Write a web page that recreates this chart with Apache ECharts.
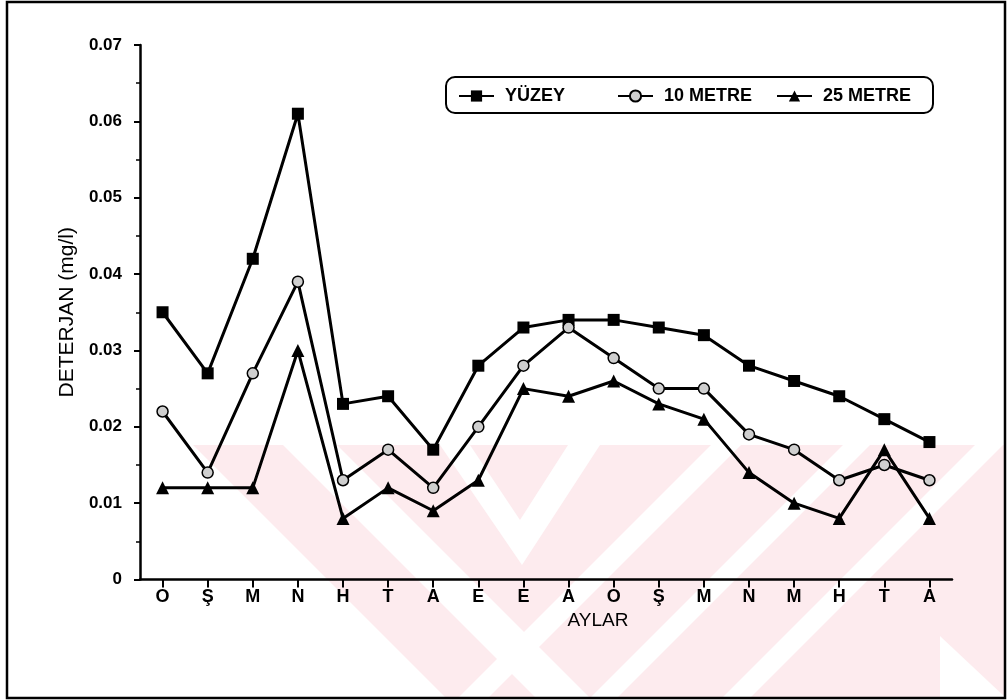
<!DOCTYPE html>
<html>
<head>
<meta charset="utf-8">
<script src="https://cdn.jsdelivr.net/npm/echarts@6/dist/echarts.min.js"></script>
<style>
  html, body { margin: 0; padding: 0; background: #fff; }
  #chart { width: 1008px; height: 700px; }
</style>
</head>
<body>
<div id="chart"></div>
<script>
// Months (Turkish initials), two sampling years
const months = ['O', 'Ş', 'M', 'N', 'H', 'T', 'A', 'E', 'E', 'A', 'O', 'Ş', 'M', 'N', 'M', 'H', 'T', 'A'];

// Detergent concentration (mg/l) by depth
const yuzey   = [0.035, 0.027, 0.042, 0.061, 0.023, 0.024, 0.017, 0.028, 0.033, 0.034, 0.034, 0.033, 0.032, 0.028, 0.026, 0.024, 0.021, 0.018];
const metre10 = [0.022, 0.014, 0.027, 0.039, 0.013, 0.017, 0.012, 0.020, 0.028, 0.033, 0.029, 0.025, 0.025, 0.019, 0.017, 0.013, 0.015, 0.013];
const metre25 = [0.012, 0.012, 0.012, 0.030, 0.008, 0.012, 0.009, 0.013, 0.025, 0.024, 0.026, 0.023, 0.021, 0.014, 0.010, 0.008, 0.017, 0.008];

const seriesNames = ['YÜZEY', '10 METRE', '25 METRE'];

const FONT = 'Liberation Sans, Arial, sans-serif';
const PINK = '#fdebee';

const chart = echarts.init(document.getElementById('chart'), null, { renderer: 'canvas' });

function legendAt(name, left) {
  return {
    data: [name],
    left: left,
    top: 87,
    orient: 'horizontal',
    padding: 0,
    itemWidth: 35,
    itemHeight: 14,
    selectedMode: false,
    textStyle: {
      fontFamily: FONT, fontSize: 18, fontWeight: 'bold', color: '#000',
      padding: [0, 0, 0, 6]
    }
  };
}

// faint diagonal background pattern in the lower part of the page
function poly(points, fill) {
  return { type: 'polygon', z: -10, silent: true, shape: { points: points }, style: { fill: fill } };
}
const pattern = [
  poly([[193, 445], [1005, 445], [1005, 697], [445, 697]], PINK),
  // white stripes
  poly([[283, 445], [337, 445], [589, 697], [535, 697]], '#fff'),
  poly([[440, 445], [470, 445], [520, 520], [568, 445], [600, 445], [522, 565]], '#fff'),
  poly([[711, 445], [741, 445], [489, 697], [459, 697]], '#fff'),
  poly([[843, 445], [870, 445], [618, 697], [591, 697]], '#fff'),
  poly([[975, 445], [1003, 445], [751, 697], [723, 697]], '#fff'),
  poly([[940, 636], [1005, 697], [940, 697]], '#fff')
];

const lineStyle = { color: '#000', width: 3 };

chart.setOption({
  backgroundColor: '#fff',
  animation: false,
  grid: { left: 140, right: 56, top: 45, bottom: 120.5, containLabel: false },
  legend: [
    legendAt(seriesNames[0], 458),
    legendAt(seriesNames[1], 617),
    legendAt(seriesNames[2], 776)
  ],
  xAxis: {
    type: 'category',
    data: months,
    boundaryGap: true,
    name: 'AYLAR',
    nameLocation: 'middle',
    nameGap: 30,
    nameTextStyle: { fontFamily: FONT, fontSize: 19, color: '#000', padding: [0, 0, 0, 104] },
    axisLine: { lineStyle: { color: '#000', width: 2.5 } },
    axisTick: { show: true, alignWithLabel: true, length: 8, lineStyle: { color: '#000', width: 2 } },
    axisLabel: { margin: 9, fontFamily: FONT, fontSize: 18, fontWeight: 'bold', color: '#000' },
    splitLine: { show: false }
  },
  yAxis: {
    type: 'value',
    min: 0,
    max: 0.07,
    interval: 0.01,
    name: 'DETERJAN (mg/l)',
    nameLocation: 'middle',
    nameGap: 61,
    nameRotate: 90,
    nameTextStyle: { fontFamily: FONT, fontSize: 21, color: '#000' },
    axisLine: { show: true, lineStyle: { color: '#000', width: 2.5 } },
    axisTick: { show: true, length: 6, lineStyle: { color: '#000', width: 2 } },
    minorTick: { show: true, splitNumber: 2, length: 4, lineStyle: { color: '#000', width: 1.5 } },
    axisLabel: {
      margin: 18, fontFamily: FONT, fontSize: 17, fontWeight: 'bold', color: '#000',
      formatter: v => (v === 0 ? '0' : v.toFixed(2))
    },
    splitLine: { show: false }
  },
  series: [
    {
      name: seriesNames[0], type: 'line', data: yuzey,
      symbol: 'rect', symbolSize: 12,
      lineStyle: lineStyle,
      itemStyle: { color: '#000' }
    },
    {
      name: seriesNames[1], type: 'line', data: metre10,
      symbol: 'circle', symbolSize: 11,
      lineStyle: lineStyle,
      itemStyle: { color: '#cfcfcf', borderColor: '#000', borderWidth: 1.5 }
    },
    {
      name: seriesNames[2], type: 'line', data: metre25,
      symbol: 'triangle', symbolSize: 13,
      lineStyle: lineStyle,
      itemStyle: { color: '#000' }
    }
  ],
  graphic: pattern.concat([
    // outer frame
    {
      type: 'rect', z: 100,
      shape: { x: 7, y: 2, width: 998, height: 696 },
      style: { fill: 'none', stroke: '#000', lineWidth: 2.5 }
    },
    // legend box
    {
      type: 'rect', z: 100,
      shape: { x: 446, y: 77, width: 487, height: 36, r: 9 },
      style: { fill: 'none', stroke: '#000', lineWidth: 2 }
    }
  ])
});
</script>
</body>
</html>
